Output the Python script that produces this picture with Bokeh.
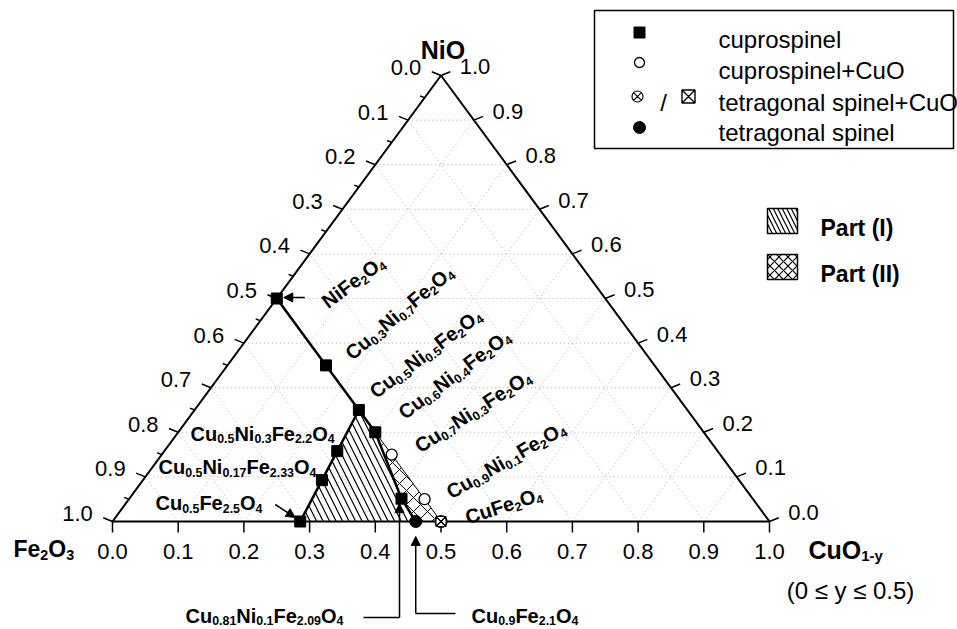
import re
import numpy as np
import pandas as pd
from bokeh.plotting import figure
from bokeh.models import ColumnDataSource, Range1d, Arrow, NormalHead
from bokeh.core.properties import value
from bokeh.embed import file_html
from bokeh.resources import INLINE

# ---------------------------------------------------------------------------
# Sample compositions: cations per formula unit of Cu_a Ni_b Fe_c O4
# ---------------------------------------------------------------------------
SAMPLES = ["NiFe2O4", "Cu0.3Ni0.7Fe2O4", "Cu0.5Ni0.5Fe2O4", "Cu0.6Ni0.4Fe2O4",
           "Cu0.7Ni0.3Fe2O4", "Cu0.9Ni0.1Fe2O4", "CuFe2O4", "Cu0.81Ni0.1Fe2.09O4",
           "Cu0.9Fe2.1O4", "Cu0.5Fe2.5O4", "Cu0.5Ni0.17Fe2.33O4", "Cu0.5Ni0.3Fe2.2O4"]
CU_COEF = [0.0, 0.3, 0.5, 0.6, 0.7, 0.9, 1.0, 0.81, 0.9, 0.5, 0.5, 0.5]
NI_COEF = [1.0, 0.7, 0.5, 0.4, 0.3, 0.1, 0.0, 0.1, 0.0, 0.0, 0.17, 0.3]
FE_COEF = [2.0, 2.0, 2.0, 2.0, 2.0, 2.0, 2.0, 2.09, 2.1, 2.5, 2.33, 2.2]
PHASE = ["cuprospinel", "cuprospinel", "cuprospinel", "cuprospinel",
         "cuprospinel+CuO", "cuprospinel+CuO", "tetragonal spinel+CuO", "cuprospinel",
         "tetragonal spinel", "cuprospinel", "cuprospinel", "cuprospinel"]

# Phase boundaries and hatched fields, as sequences of samples
OUTER_BOUNDARY = ["NiFe2O4", "Cu0.3Ni0.7Fe2O4", "Cu0.5Ni0.5Fe2O4", "Cu0.6Ni0.4Fe2O4",
                  "Cu0.81Ni0.1Fe2.09O4", "Cu0.9Fe2.1O4"]
INNER_BOUNDARY = ["Cu0.5Ni0.5Fe2O4", "Cu0.5Ni0.3Fe2.2O4", "Cu0.5Ni0.17Fe2.33O4", "Cu0.5Fe2.5O4"]
PART_I = ["Cu0.5Ni0.5Fe2O4", "Cu0.6Ni0.4Fe2O4", "Cu0.81Ni0.1Fe2.09O4", "Cu0.9Fe2.1O4",
          "Cu0.5Fe2.5O4", "Cu0.5Ni0.17Fe2.33O4", "Cu0.5Ni0.3Fe2.2O4"]
PART_II = ["Cu0.6Ni0.4Fe2O4", "Cu0.7Ni0.3Fe2O4", "Cu0.9Ni0.1Fe2O4", "CuFe2O4",
           "Cu0.9Fe2.1O4", "Cu0.81Ni0.1Fe2.09O4"]

TICKS = [0.0, 0.1, 0.2, 0.3, 0.4, 0.5, 0.6, 0.7, 0.8, 0.9, 1.0]
MINOR_TICKS = [0.05, 0.15, 0.25, 0.35, 0.45, 0.55, 0.65, 0.75, 0.85, 0.95]
TICK_LABELS = ["0.0", "0.1", "0.2", "0.3", "0.4", "0.5", "0.6", "0.7", "0.8", "0.9", "1.0"]

FONT = "Liberation Sans"
W, H = 957, 629
# pixel position of the Fe2O3 corner and pixel size of one unit
X0_PX, Y0_PX, SX, SY = 112.0, 521.0, 657.0, 446.0


def scr(px, py):
    """Canvas pixel -> data coordinates (for annotations)."""
    return (px - X0_PX) / SX, (Y0_PX - py) / SY


def shift(x, y, dpx, dpy):
    return x + dpx / SX, y - dpy / SY


# ternary -> cartesian (CuO to the right, NiO up)
cu = np.array(CU_COEF)
ni = np.array(NI_COEF)
fe = np.array(FE_COEF) / 2.0
tot = cu + ni + fe
f_cu, f_ni = cu / tot, ni / tot
TX = f_cu + f_ni / 2.0
TY = f_ni
IDX = {n: i for i, n in enumerate(SAMPLES)}


def path(names):
    ii = [IDX[n] for n in names]
    return list(TX[ii]), list(TY[ii])


p = figure(width=W, height=H, output_backend="svg", toolbar_location=None,
           x_range=Range1d(-X0_PX / SX, (W - X0_PX) / SX),
           y_range=Range1d(-(H - Y0_PX) / SY, Y0_PX / SY),
           min_border=0, outline_line_color=None)
p.axis.visible = False
p.grid.visible = False
p.background_fill_color = "white"

# ---------------- dotted composition grid ----------------
gx0, gy0, gx1, gy1 = [], [], [], []
for v in TICKS[1:-1]:
    # constant NiO
    gx0.append(v / 2); gy0.append(v); gx1.append(1 - v / 2); gy1.append(v)
    # constant CuO
    gx0.append(v); gy0.append(0); gx1.append(v + (1 - v) / 2); gy1.append(1 - v)
    # constant Fe2O3
    gx0.append(1 - v); gy0.append(0); gx1.append((1 - v) / 2); gy1.append(1 - v)
p.segment(gx0, gy0, gx1, gy1, line_color="#b0b0b0", line_width=1, line_dash="1 3")

# ---------------- hatched fields ----------------
xs, ys = path(PART_I)
p.patch(xs, ys, fill_alpha=0, line_alpha=0, hatch_pattern="\\", hatch_scale=13,
        hatch_weight=1.2, hatch_color="black")
xs, ys = path(PART_II)
p.patch(xs, ys, fill_alpha=0, line_color="black", line_width=1, hatch_pattern="x",
        hatch_scale=14, hatch_weight=1, hatch_color="black")

# ---------------- triangle frame ----------------
p.line([0, 0.5, 1, 0], [0, 1, 0, 0], line_color="black", line_width=2)

# ticks
tx0, ty0, tx1, ty1 = [], [], [], []
ang = np.radians(22)
for t in TICKS:
    tx0.append(t); ty0.append(0); x1, y1 = shift(t, 0, 0, 11); tx1.append(x1); ty1.append(y1)
    ex, ey = (1 - t) / 2, 1 - t
    x1, y1 = shift(ex, ey, -10 * np.cos(ang), -10 * np.sin(ang))
    tx0.append(ex); ty0.append(ey); tx1.append(x1); ty1.append(y1)
    ex, ey = 1 - t / 2, t
    x1, y1 = shift(ex, ey, 10 * np.cos(ang), -10 * np.sin(ang))
    tx0.append(ex); ty0.append(ey); tx1.append(x1); ty1.append(y1)
for t in MINOR_TICKS:
    ex, ey = (1 - t) / 2, 1 - t
    x1, y1 = shift(ex, ey, -5 * np.cos(ang), -5 * np.sin(ang))
    tx0.append(ex); ty0.append(ey); tx1.append(x1); ty1.append(y1)
p.segment(tx0, ty0, tx1, ty1, line_color="black", line_width=1.5)

# tick labels
lab = dict(x=[], y=[], text=[], xo=[], yo=[])
for t, s in zip(TICKS, TICK_LABELS):
    lab["x"] += [t, (1 - t) / 2, 1 - t / 2]
    lab["y"] += [0, 1 - t, t]
    lab["text"] += [s, s, s]
    lab["xo"] += [0, -35, 34]
    lab["yo"] += [30, -8, -9]
p.text(x="x", y="y", text="text", x_offset="xo", y_offset="yo", source=ColumnDataSource(lab),
       text_font=value(FONT), text_font_size="22px", text_align="center",
       text_baseline="middle", text_color="black")

# ---------------- phase boundaries ----------------
xs, ys = path(OUTER_BOUNDARY)
p.line(xs, ys, line_color="black", line_width=2.5)
xs, ys = path(INNER_BOUNDARY)
p.line(xs, ys, line_color="black", line_width=2.5)

# ---------------- arrows & leaders ----------------
head = dict(size=9, fill_color="black", line_color="black")
i = IDX["NiFe2O4"]
xa, ya = shift(TX[i], TY[i], 28, -1); xb, yb = shift(TX[i], TY[i], 7, -1)
p.add_layout(Arrow(end=NormalHead(**head), x_start=xa, y_start=ya, x_end=xb, y_end=yb, line_width=1.5))
i = IDX["Cu0.5Fe2.5O4"]
xa, ya = shift(TX[i], TY[i], -25, -17); xb, yb = shift(TX[i], TY[i], -5, -4)
p.add_layout(Arrow(end=NormalHead(**head), x_start=xa, y_start=ya, x_end=xb, y_end=yb, line_width=1.5))
i = IDX["Cu0.81Ni0.1Fe2.09O4"]
xv, _ = shift(TX[i], TY[i], -2, 0)
_, ylow = scr(0, 617)
xl, _ = scr(363, 0)
_, ytip = shift(TX[i], TY[i], 0, 5)
p.line([xl, xv], [ylow, ylow], line_color="black", line_width=1.5)
p.add_layout(Arrow(end=NormalHead(**head), x_start=xv, y_start=ylow, x_end=xv, y_end=ytip, line_width=1.5))
i = IDX["Cu0.9Fe2.1O4"]
_, ylow = scr(0, 613)
xr, _ = scr(455, 0)
_, ytip = shift(TX[i], TY[i], 0, 15)
p.line([TX[i], xr], [ylow, ylow], line_color="black", line_width=1.5)
p.add_layout(Arrow(end=NormalHead(**head), x_start=TX[i], y_start=ylow, x_end=TX[i], y_end=ytip, line_width=1.5))

# ---------------- sample points ----------------
ph = np.array(PHASE)
m = ph == "cuprospinel"
p.scatter(TX[m], TY[m], marker="square", size=11, fill_color="black", line_color="black")
m = ph == "cuprospinel+CuO"
p.scatter(TX[m], TY[m], marker="circle", size=11, fill_color="white", line_color="black", line_width=1.3)
m = ph == "tetragonal spinel+CuO"
p.scatter(TX[m], TY[m], marker="circle_x", size=12, fill_color="white", line_color="black", line_width=1.2)
p.scatter(TX[m], TY[m], marker="square_x", size=10, fill_alpha=0, line_color="black", line_width=1.0)
m = ph == "tetragonal spinel"
p.scatter(TX[m], TY[m], marker="circle", size=12, fill_color="black", line_color="black")

# ---------------- formula labels with subscripts ----------------
BOLD_W = {"A": .722, "C": .722, "F": .611, "I": .278, "N": .722, "O": .778, "P": .667,
          "a": .556, "e": .556, "i": .278, "r": .389, "t": .333, "u": .611, "y": .556,
          ".": .278, "-": .333, "(": .333, ")": .333, " ": .278}


def runs(s):
    out = []
    for mm in re.finditer(r"_\{([^}]*)\}|([^_]+)", s):
        if mm.group(1) is not None:
            out.append((mm.group(1), True))
        else:
            out.append((mm.group(2), False))
    return out


def layout(label, px, py, size, angle_deg=0.0, sub_scale=0.62, drop=0.27, align="left"):
    x, y = scr(px, py)
    th = np.radians(angle_deg)
    d = (np.cos(th), -np.sin(th))
    n = (np.sin(th), np.cos(th))
    rs = runs(label)
    widths = [sum(BOLD_W.get(ch, .556) for ch in t) * size * (sub_scale if sub else 1.0)
              for t, sub in rs]
    u = -sum(widths) / 2 if align == "center" else 0.0
    rows = []
    for (t, sub), w in zip(rs, widths):
        dv = drop * size if sub else 0.0
        fs = size * sub_scale if sub else size
        rows.append(dict(x=x, y=y, text=t, xo=u * d[0] + dv * n[0], yo=u * d[1] + dv * n[1],
                         angle=th, size=f"{fs:.1f}px"))
        u += w
    return rows


rows = []
FORMULA_LABELS = [
    ("NiFe_{2}O_{4}", 323.6, 303.1, 37),
    ("Cu_{0.3}Ni_{0.7}Fe_{2}O_{4}", 347.4, 355.1, 40),
    ("Cu_{0.5}Ni_{0.5}Fe_{2}O_{4}", 371.6, 393.1, 37),
    ("Cu_{0.6}Ni_{0.4}Fe_{2}O_{4}", 400.3, 414.1, 37),
    ("Cu_{0.7}Ni_{0.3}Fe_{2}O_{4}", 416.2, 447.2, 33),
    ("Cu_{0.9}Ni_{0.1}Fe_{2}O_{4}", 447.4, 493, 30),
    ("CuFe_{2}O_{4}", 465.4, 517.3, 18),
    ("Cu_{0.5}Ni_{0.3}Fe_{2.2}O_{4}", 190, 433, 0),
    ("Cu_{0.5}Ni_{0.17}Fe_{2.33}O_{4}", 158, 466.7, 0),
    ("Cu_{0.5}Fe_{2.5}O_{4}", 155, 502.7, 0),
    ("Cu_{0.81}Ni_{0.1}Fe_{2.09}O_{4}", 185, 615, 0),
    ("Cu_{0.9}Fe_{2.1}O_{4}", 471, 615, 0),
]
for txt, px, py, a in FORMULA_LABELS:
    rows += layout(txt, px, py, 20, a)
# corner titles
rows += layout("NiO", 442.5, 49.5, 25, align="center")
rows += layout("Fe_{2}O_{3}", 13, 548, 23)
rows += layout("CuO_{1-y}", 808, 549, 25, sub_scale=0.6, drop=0.25)
# hatch legend captions
rows += layout("Part (I)", 820, 227.5, 23)
rows += layout("Part (II)", 820, 273.5, 23)

p.text(x="x", y="y", text="text", x_offset="xo", y_offset="yo", angle="angle",
       text_font_size="size", source=ColumnDataSource(pd.DataFrame(rows)),
       text_font=value(FONT), text_font_style="bold", text_align="left",
       text_baseline="alphabetic", text_color="black")

x, y = scr(850, 590)
p.text([x], [y], text=["(0 \u2264 y \u2264 0.5)"], text_font=value(FONT), text_font_size="24px",
       text_align="center", text_baseline="middle", text_color="black")

# ---------------- symbol legend ----------------
l, t = scr(594, 10)
r, b = scr(953, 148)
p.quad(left=[l], right=[r], top=[t], bottom=[b], fill_color="white", line_color="black", line_width=1.5)

LEGEND_ROWS = ["cuprospinel", "cuprospinel+CuO", "tetragonal spinel+CuO", "tetragonal spinel"]
row_mid = [32, 62, 96, 127]
row_base = [38.5, 70, 102, 132]
sx, sy = zip(*[scr(639, yy) for yy in row_mid])
p.scatter([sx[0]], [sy[0]], marker="square", size=11, fill_color="black", line_color="black")
p.scatter([sx[1]], [sy[1]], marker="circle", size=10, fill_color="white", line_color="black", line_width=1.3)
cx, cy = scr(637, 96)
p.scatter([cx], [cy], marker="circle_x", size=11, fill_color="white", line_color="black", line_width=1.2)
cx, cy = scr(688, 96)
p.scatter([cx], [cy], marker="square_x", size=13, fill_color="white", line_color="black", line_width=1.4)
p.scatter([sx[3]], [sy[3]], marker="circle", size=12, fill_color="black", line_color="black")
lx, ly = zip(*[scr(718, yy) for yy in row_base])
p.text(list(lx), list(ly), text=LEGEND_ROWS, text_font=value(FONT), text_font_size="24px",
       text_align="left", text_baseline="alphabetic", text_color="black")
cx, cy = scr(663, 102)
p.text([cx], [cy], text=["/"], text_font=value(FONT), text_font_size="24px",
       text_align="center", text_baseline="alphabetic", text_color="black")

# ---------------- hatch legend swatches ----------------
l1, t1 = scr(767, 208); r1, b1 = scr(797, 233)
p.quad(left=[l1], right=[r1], top=[t1], bottom=[b1], fill_alpha=0, line_color="black",
       line_width=1.5, hatch_pattern="\\", hatch_scale=9, hatch_weight=1.2, hatch_color="black")
l2, t2 = scr(767, 254); r2, b2 = scr(797, 279)
p.quad(left=[l2], right=[r2], top=[t2], bottom=[b2], fill_alpha=0, line_color="black",
       line_width=1.5, hatch_pattern="x", hatch_scale=9, hatch_weight=1.2, hatch_color="black")

open("out.html", "w").write(file_html(p, INLINE))
